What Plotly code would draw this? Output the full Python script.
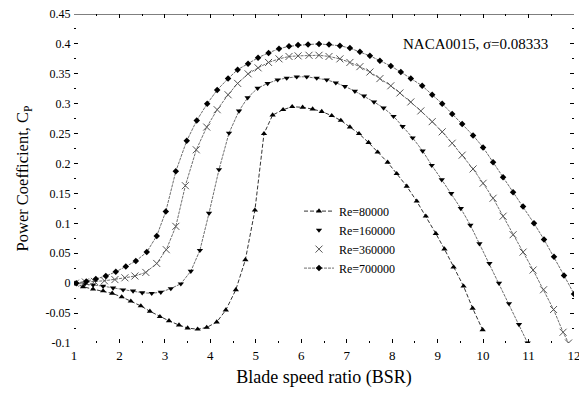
import plotly.graph_objects as go

# ---- data ----
bsr_80k = [1.0, 1.2, 1.42, 1.64, 1.84, 2.05, 2.25, 2.47, 2.67, 2.89, 3.09, 3.31, 3.5, 3.72, 3.92,
           4.14, 4.34, 4.56, 4.77, 4.98, 5.18, 5.37, 5.6, 5.8, 6.03, 6.25, 6.45, 6.67, 6.87, 7.07,
           7.27, 7.48, 7.68, 7.9, 8.1, 8.32, 8.54, 8.74, 8.96, 9.15, 9.35, 9.57, 9.77, 9.99]
cp_80k = [0.0, -0.006, -0.01, -0.013, -0.017, -0.023, -0.03, -0.038, -0.047, -0.056, -0.063, -0.07,
          -0.075, -0.077, -0.074, -0.065, -0.045, -0.011, 0.039, 0.122, 0.25, 0.281, 0.29, 0.295,
          0.294, 0.291, 0.287, 0.28, 0.272, 0.261, 0.25, 0.235, 0.219, 0.202, 0.183, 0.162, 0.137,
          0.112, 0.083, 0.057, 0.027, -0.005, -0.042, -0.078]

bsr_160k = [1.02, 1.24, 1.42, 1.64, 1.86, 2.08, 2.3, 2.5, 2.71, 2.91, 3.13, 3.35, 3.57, 3.77, 3.97,
            4.19, 4.41, 4.63, 4.82, 5.04, 5.26, 5.48, 5.68, 5.9, 6.12, 6.34, 6.56, 6.76, 6.96, 7.18,
            7.38, 7.6, 7.81, 8.03, 8.23, 8.45, 8.67, 8.87, 9.09, 9.3, 9.51, 9.72, 9.92, 10.14,
            10.35, 10.57, 10.79, 10.98]
cp_160k = [0.0, -0.001, -0.003, -0.005, -0.008, -0.011, -0.013, -0.016, -0.017, -0.015, -0.009,
           -0.001, 0.02, 0.055, 0.117, 0.19, 0.251, 0.288, 0.31, 0.326, 0.334, 0.34, 0.343, 0.345,
           0.345, 0.343, 0.34, 0.335, 0.329, 0.321, 0.313, 0.303, 0.293, 0.279, 0.262, 0.243,
           0.221, 0.197, 0.173, 0.15, 0.125, 0.097, 0.066, 0.033, 0.0, -0.034, -0.069, -0.1]

bsr_360k = [1.03, 1.25, 1.45, 1.67, 1.9, 2.12, 2.34, 2.58, 2.82, 3.03, 3.24, 3.45, 3.69, 3.92, 4.15,
            4.39, 4.6, 4.83, 5.05, 5.28, 5.51, 5.73, 5.93, 6.17, 6.39, 6.61, 6.85, 7.07, 7.29, 7.51,
            7.73, 7.97, 8.17, 8.41, 8.63, 8.88, 9.1, 9.32, 9.54, 9.78, 10.0, 10.22, 10.44, 10.66,
            10.88, 11.1, 11.33, 11.55, 11.76, 11.88]
cp_360k = [0.0, 0.002, 0.003, 0.004, 0.006, 0.009, 0.012, 0.018, 0.033, 0.056, 0.095, 0.163, 0.223,
           0.261, 0.29, 0.315, 0.334, 0.35, 0.36, 0.369, 0.375, 0.379, 0.38, 0.381, 0.381, 0.379,
           0.375, 0.369, 0.362, 0.353, 0.342, 0.33, 0.318, 0.303, 0.288, 0.27, 0.253, 0.234, 0.214,
           0.191, 0.167, 0.142, 0.112, 0.081, 0.052, 0.022, -0.011, -0.044, -0.082, -0.1]

bsr_700k = [1.05, 1.27, 1.48, 1.7, 1.92, 2.14, 2.36, 2.6, 2.82, 3.02, 3.24, 3.48, 3.7, 3.93, 4.15,
            4.39, 4.6, 4.83, 5.05, 5.28, 5.51, 5.73, 5.93, 6.15, 6.39, 6.61, 6.85, 7.07, 7.29, 7.51,
            7.73, 7.97, 8.19, 8.41, 8.66, 8.88, 9.1, 9.32, 9.54, 9.78, 10.0, 10.22, 10.44, 10.66,
            10.88, 11.12, 11.34, 11.56, 11.78, 12.0]
cp_700k = [0.0, 0.003, 0.007, 0.012, 0.019, 0.028, 0.037, 0.052, 0.079, 0.12, 0.187, 0.238, 0.272,
           0.3, 0.323, 0.342, 0.357, 0.367, 0.377, 0.385, 0.392, 0.396, 0.398, 0.399, 0.4, 0.399,
           0.397, 0.393, 0.387, 0.38, 0.372, 0.363, 0.353, 0.342, 0.33, 0.315, 0.3, 0.283, 0.266,
           0.247, 0.227, 0.202, 0.177, 0.152, 0.128, 0.1, 0.073, 0.044, 0.013, -0.018]

series_names = ["Re=80000", "Re=160000", "Re=360000", "Re=700000"]
x_ticks = [1, 2, 3, 4, 5, 6, 7, 8, 9, 10, 11, 12]
y_ticks = [-0.1, -0.05, 0, 0.05, 0.1, 0.15, 0.2, 0.25, 0.3, 0.35, 0.4, 0.45]
y_tick_text = ["-0.1", "-0.05", "0", "0.05", "0.1", "0.15", "0.2", "0.25", "0.3", "0.35", "0.4", "0.45"]

FONT = "Liberation Serif"
LINE_GREY = "#6e6e6e"

fig = go.Figure()

# Re=80000: dashed line + up triangles
fig.add_trace(go.Scatter(
    x=bsr_80k, y=cp_80k, name=series_names[0], mode="lines+markers",
    line=dict(color="#333333", width=1, dash="4px,2px"),
    marker=dict(symbol="triangle-up", size=5.5, color="black")))

# Re=160000: dotted line + down triangles (legend shows marker only)
fig.add_trace(go.Scatter(
    x=bsr_160k, y=cp_160k, showlegend=False, mode="lines",
    line=dict(color=LINE_GREY, width=1, dash="3px,1px"), hoverinfo="skip"))
fig.add_trace(go.Scatter(
    x=bsr_160k, y=cp_160k, name=series_names[1], mode="markers",
    marker=dict(symbol="triangle-down", size=5.5, color="black")))

# Re=360000: grey line + x markers (legend shows marker only)
fig.add_trace(go.Scatter(
    x=bsr_360k, y=cp_360k, showlegend=False, mode="lines",
    line=dict(color=LINE_GREY, width=1, dash="3px,1px"), hoverinfo="skip"))
fig.add_trace(go.Scatter(
    x=bsr_360k, y=cp_360k, name=series_names[2], mode="markers",
    marker=dict(symbol="x-thin", size=7, color="#555555", line=dict(width=1, color="#555555"))))

# Re=700000: dotted line + diamonds
fig.add_trace(go.Scatter(
    x=bsr_700k, y=cp_700k, name=series_names[3], mode="lines+markers",
    line=dict(color=LINE_GREY, width=1, dash="3px,1px"),
    marker=dict(symbol="diamond", size=5, color="black")))

# top frame line
fig.add_shape(type="line", xref="paper", yref="y", x0=0, x1=1, y0=0.45, y1=0.45,
              line=dict(color="black", width=1))

fig.add_annotation(x=11.47, y=0.40, xref="x", yref="y", xanchor="right", yanchor="middle",
                   text="NACA0015, σ=0.08333", showarrow=False,
                   font=dict(family=FONT, size=15, color="black"))

# the page body adds an 8px offset, so the figure is sized/margined to compensate
fig.update_layout(
    width=579, height=387,
    margin=dict(l=66, r=13, t=6, b=52, autoexpand=False),
    paper_bgcolor="white", plot_bgcolor="white",
    font=dict(family=FONT, size=12, color="black"),
    legend=dict(x=0.45, y=0.445, xanchor="left", yanchor="top",
                bgcolor="rgba(0,0,0,0)", font=dict(family=FONT, size=12),
                tracegroupgap=0, itemwidth=30),
    showlegend=True,
)

fig.update_xaxes(
    range=[1, 12], tickvals=x_ticks, ticks="inside", ticklen=4, tickcolor="black",
    showline=True, linecolor="rgba(0,0,0,0)", mirror="ticks", showgrid=False, zeroline=False,
    minor=dict(dtick=0.5, ticks="inside", ticklen=2, tickcolor="black"),
    tickfont=dict(family=FONT, size=13), ticklabeloverflow="allow", automargin=False,
    title=dict(text="Blade speed ratio (BSR)", font=dict(family=FONT, size=18), standoff=8),
)
fig.update_yaxes(
    range=[-0.1, 0.45], tickvals=y_ticks, ticktext=y_tick_text, ticks="inside", ticklen=4,
    tickcolor="black", showline=True, linecolor="rgba(0,0,0,0)", mirror="ticks",
    showgrid=False, zeroline=False, automargin=False, ticklabeloverflow="allow",
    minor=dict(dtick=0.025, ticks="inside", ticklen=2, tickcolor="black"),
    tickfont=dict(family=FONT, size=12),
    title=dict(text="Power Coefficient, C<sub>P</sub>", font=dict(family=FONT, size=16.5), standoff=12),
)

fig.write_html("out.html")
